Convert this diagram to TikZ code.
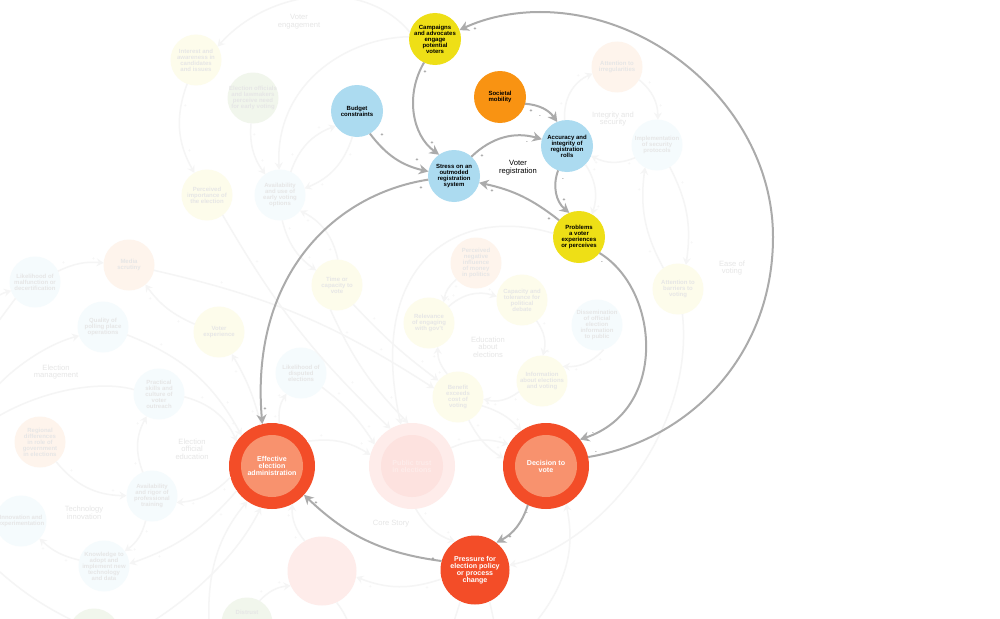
\documentclass[tikz,border=0pt]{standalone}
\usepackage{fontspec}
\setmainfont{Liberation Sans}
\usetikzlibrary{arrows.meta}
\definecolor{cBlue}{HTML}{ACDBF0}
\definecolor{cYel}{HTML}{EEDF16}
\definecolor{cOrg}{HTML}{F99312}
\definecolor{cRed}{HTML}{F34D28}
\definecolor{cIn}{HTML}{F8926E}
\definecolor{cGray}{HTML}{ABABAB}
\definecolor{fYel}{HTML}{FDFCEB}
\definecolor{fBlu}{HTML}{F5FBFD}
\definecolor{fOrg}{HTML}{FEF4EC}
\definecolor{fGrn}{HTML}{F1F6EC}
\definecolor{fLine}{HTML}{F5F5F5}
\definecolor{fText}{HTML}{E6E6E6}
\definecolor{gOut}{HTML}{FEECEA}
\definecolor{gIn}{HTML}{FDE2DF}
\tikzset{
  base/.style={circle,draw=none,inner sep=-4pt,outer sep=0pt,minimum size=51pt,align=center,
    font=\fontsize{6}{6}\selectfont\bfseries},
  act/.style={base,text=black},
  fad/.style={base,text=fText},
  big/.style={circle,draw=none,fill=cRed,inner sep=0pt,outer sep=0pt,minimum size=86pt},
  inn/.style={circle,draw=none,fill=cIn,inner sep=-4pt,minimum size=62pt,align=center,text=white,
    font=\fontsize{7.1}{7}\selectfont\bfseries},
  conn/.style={draw=cGray,line width=2pt,-{Stealth[length=9.5pt,width=10pt,inset=3pt]}},
  fedge/.style={draw=fLine,line width=1.5pt,-{Stealth[length=7pt,width=8pt,inset=2.5pt]}},
  plain/.style={draw=fLine,line width=1.5pt},
  lab/.style={text=fText,align=center,font=\fontsize{7.6}{7.7}\selectfont},
  mk/.style={text=cGray!80!black,inner sep=0pt,font=\fontsize{5}{5}\selectfont\bfseries},
  fmk/.style={text=fLine,inner sep=1.5pt,font=\fontsize{5}{5}\selectfont\bfseries}
}
\newcommand\fe[3]{\draw[fedge] (#2) to[#1] node[fmk,pos=.2,auto]{+} node[fmk,pos=.8,auto]{+} (#3);}
\begin{document}
\begin{tikzpicture}[x=1pt,y=-1pt]
\useasboundingbox (0,0) rectangle (1000,618);
\clip (0,0) rectangle (1000,618);
\fill[white] (0,0) rectangle (1000,618);
% faded nodes
\node[fad,fill=fYel] (interest) at (196,60) {Interest and\\awareness in\\candidates\\and issues};
\node[fad,fill=fGrn] (officials) at (253,98) {Election officials\\and lawmakers\\perceive need\\for early voting};
\node[fad,fill=fYel] (importance) at (207,195) {Perceived\\importance of\\the election};
\node[fad,fill=fBlu] (early) at (280,195) {Availability\\and use of\\early voting\\options};
\node[fad,fill=fYel] (time) at (337,285) {Time or\\capacity to\\vote};
\node[fad,fill=fOrg] (media) at (129,265) {Media\\scrutiny};
\node[fad,fill=fBlu] (malf) at (35,282) {Likelihood of\\malfunction or\\decertification};
\node[fad,fill=fBlu] (quality) at (103,327) {Quality of\\polling place\\operations};
\node[fad,fill=fYel] (vexp) at (219,332) {Voter\\experience};
\node[fad,fill=fBlu] (disputed) at (301,373) {Likelihood of\\disputed\\elections};
\node[fad,fill=fBlu] (skills) at (159,394) {Practical\\skills and\\culture of\\voter\\outreach};
\node[fad,fill=fOrg] (regional) at (40,442) {Regional\\differences\\in role of\\government\\in elections};
\node[fad,fill=fBlu] (rigor) at (152,496) {Availability\\and rigor of\\professional\\training};
\node[fad,fill=fBlu] (innov) at (21,521) {Innovation and\\experimentation};
\node[fad,fill=fBlu] (know) at (104,566) {Knowledge to\\adopt and\\implement new\\technology\\and data};
\node[fad,fill=fGrn] (green) at (94,634) {};
\node[fad,fill=fGrn] (distrust) at (247,623) {};
\node[fad,fill=none,minimum size=0pt,inner sep=0pt] (distrustt) at (247,612.5) {Distrust};
\node[fad,fill=fOrg] (irreg) at (617,67) {Attention to\\irregularities};
\node[fad,fill=fBlu] (impl) at (657,145) {Implementation\\of security\\protocols};
\node[fad,fill=fYel] (barriers) at (678,289) {Attention to\\barriers to\\voting};
\node[fad,fill=fOrg] (money) at (476,263) {Perceived\\negative\\influence\\of money\\in politics};
\node[fad,fill=fYel] (capacity) at (522,300) {Capacity and\\tolerance for\\political\\debate};
\node[fad,fill=fYel] (relevance) at (429,323) {Relevance\\of engaging\\with gov't};
\node[fad,fill=fBlu] (dissem) at (597,325) {Dissemination\\of official\\election\\information\\to public};
\node[fad,fill=fYel] (info) at (542,381) {Information\\about elections\\and voting};
\node[fad,fill=fYel] (benefit) at (458,397) {Benefit\\exceeds\\cost of\\voting};
\node[big,fill=gOut] (ghost) at (412,466) {};
\node[inn,fill=gIn,text=gOut] (ghostin) at (412,466) {Public trust\\in elections};
\node[circle,fill=gOut,inner sep=0pt,minimum size=69pt] (ghosttwo) at (322,571) {};
% active nodes
\node[act,fill=cYel,minimum size=52pt] (camp) at (435,39) {Campaigns\\and advocates\\engage\\potential\\voters};
\node[act,fill=cOrg,minimum size=52pt] (mobility) at (500,97) {Societal\\mobility};
\node[act,fill=cBlue,minimum size=52pt] (budget) at (357,111) {Budget\\constraints};
\node[act,fill=cBlue,minimum size=52pt] (stress) at (454,176) {Stress on an\\outmoded\\registration\\system};
\node[act,fill=cBlue,minimum size=52pt] (acc) at (567,146) {Accuracy and\\integrity of\\registration\\rolls};
\node[act,fill=cYel,minimum size=52pt] (prob) at (579,237) {Problems\\a voter\\experiences\\or perceives};
\node[big] (eff) at (272,466) {};
\node[inn] (effin) at (272,466) {Effective\\election\\administration};
\node[big] (dec) at (546,466) {};
\node[inn] (decin) at (546,466) {Decision to\\vote};
\node[circle,fill=cRed,inner sep=-4pt,minimum size=69pt,align=center,text=white,font=\fontsize{7.1}{7}\selectfont\bfseries] (press) at (475,570) {Pressure for\\election policy\\or process\\change};
% labels
\node[lab] (l1) at (299,22) {Voter\\engagement};
\node[lab] (l2) at (613,119) {Integrity and\\security};
\node[lab,text=black] (l3) at (518,168) {Voter\\registration};
\node[lab] (l4) at (732,268) {Ease of\\voting};
\node[lab] (l5) at (56,372) {Election\\management};
\node[lab] (l6) at (192,449) {Election\\official\\education};
\node[lab] (l7) at (488,347) {Education\\about\\elections};
\node[lab] (l8) at (84,513) {Technology\\innovation};
\node[lab] (l9) at (391,524) {Core Story};
% free ends
\coordinate (fa) at (-8,300);
\coordinate (fb) at (-8,392);
\coordinate (fc) at (-8,420);
\coordinate (fd) at (-8,330);
\coordinate (fe) at (-8,565);
\coordinate (ff) at (120,640);
\coordinate (fg) at (210,640);
\coordinate (fh) at (352,640);
\coordinate (fi) at (448,640);
\coordinate (fj) at (498,640);
\coordinate (fk) at (520,640);
\coordinate (fl) at (-8,495);
% faded connectors
\draw[fedge] (camp.165) .. controls (365,-22) and (270,-12) .. (interest.32);
\fe{bend right=25}{interest}{importance}
\fe{bend right=20}{officials}{early}
\draw[fedge] (camp.175) .. controls (345,38) and (275,85) .. (early.92);
\fe{bend left=25}{early.65}{budget.215}
\fe{bend left=25}{budget.260}{early.15}
\fe{bend right=20}{early.-85}{time.145}
\fe{bend right=25}{time.88}{early.-38}
\fe{bend left=10}{media}{benefit.160}
\fe{bend right=8}{importance.-52}{ghost.120}
\fe{bend right=10}{time.-105}{ghost.95}
\fe{bend right=5}{time.-50}{benefit.140}
\fe{bend left=20}{quality}{eff.135}
\fe{bend left=25}{skills}{eff.145}
\fe{bend left=15}{vexp}{media.-50}
\fe{bend right=8}{eff.105}{vexp.-60}
\fe{bend left=20}{eff.80}{disputed.-125}
\fe{bend left=10}{disputed}{ghost.150}
\fe{bend left=15}{malf}{media}
\draw[fedge] (fa) to[bend left=10] (malf.200);
\draw[plain] (malf.-140) -- (fd);
\draw[fedge] (fb) .. controls (10,370) and (45,345) .. (quality.200);
\draw[plain] (skills.170) .. controls (100,380) and (40,390) .. (fc);
\fe{bend right=25}{regional}{rigor}
\fe{bend left=25}{rigor}{skills}
\fe{bend left=20}{eff.-165}{rigor.-15}
\fe{bend left=20}{rigor}{know}
\fe{bend left=15}{eff.-145}{know.5}
\fe{bend left=15}{know}{innov}
\draw[plain] (innov.160) -- (fl);
\draw[plain] (fe) .. controls (20,590) and (50,615) .. (ff);
\draw[fedge] (ff) .. controls (180,610) and (235,560) .. (eff.-105);
\draw[fedge] (fg) .. controls (205,580) and (215,540) .. (eff.-125);
\fe{bend left=20}{ghosttwo.120}{eff.-62}
\fe{bend left=20}{distrust}{ghosttwo.-155}
\fe{bend left=20}{press.-165}{ghosttwo.-10}
\draw[plain] (ghosttwo.-65) to[bend left=15] (fh);
\fe{bend right=20}{ghost.-85}{press.125}
\fe{bend left=20}{eff.35}{ghost.165}
\fe{bend left=20}{ghost.25}{dec.150}
\fe{bend right=15}{benefit.-65}{dec.170}
\fe{bend left=15}{benefit.-20}{dec.125}
\fe{bend left=25}{info.-155}{benefit.-5}
\fe{bend left=20}{benefit.115}{relevance.-70}
\fe{bend left=30}{relevance.40}{capacity.172}
\fe{bend right=20}{money.-140}{relevance.55}
\fe{bend left=25}{capacity.-55}{info.88}
\fe{bend left=25}{dissem.-75}{info.35}
\fe{bend left=35}{acc.95}{irreg.-165}
\fe{bend left=25}{irreg.-30}{impl.88}
\fe{bend left=25}{impl.-150}{acc.-22}
\fe{bend left=25}{acc.-45}{prob.60}
\fe{bend left=18}{barriers.125}{impl.-118}
\fe{bend left=18}{impl.-60}{barriers.72}
\draw[fedge] (barriers.-80) .. controls (695,430) and (600,545) .. (press.8);
\draw[fedge] (fk) .. controls (578,580) and (572,535) .. (dec.-62);
\draw[plain] (press.-115) -- (fi);
\draw[plain] (press.-65) -- (fj);
\draw[fedge] (prob.172) .. controls (460,205) and (365,260) .. (ghost.105);
% active connectors
\draw[conn] (camp.-115) .. controls (405,95) and (412,135) .. (stress.125);
\draw[conn] (budget) to[bend right=20] (stress.170);
\draw[conn] (mobility.-15) to[bend left=25] (acc.112);
\draw[conn] (stress.48) to[bend left=30] (acc.165);
\draw[conn] (acc.-110) to[bend right=35] (prob.112);
\draw[conn] (prob.140) to[bend right=13] (stress.-15);
\draw[conn] (prob.-38) .. controls (660,290) and (668,410) .. (dec.38);
\draw[conn] (dec.12) .. controls (690,440) and (773,355) .. (773,237)
   .. controls (773,115) and (660,12) .. (540,12)
   .. controls (512,12) and (485,18) .. (camp.20);
\draw[conn] (stress.-172) .. controls (330,195) and (250,280) .. (eff.103);
\draw[conn] (dec.-115) to[bend left=22] (press.52);
\draw[conn] (press.165) to[bend left=18] (eff.-42);
% polarity marks
\node[mk] (m1) at (425,72) {+};
\node[mk] (m2) at (432,143) {+};
\node[mk] (m3) at (382,135) {+};
\node[mk] (m4) at (417,160) {+};
\node[mk] (m5) at (531,111) {+};
\node[mk] (m6) at (540,117) {-};
\node[mk] (m7) at (482,156) {+};
\node[mk] (m8) at (527,143) {-};
\node[mk] (m9) at (563,180) {-};
\node[mk] (m10) at (564,200) {+};
\node[mk] (m11) at (549,219) {+};
\node[mk] (m12) at (492,191) {+};
\node[mk] (m13) at (421,188) {+};
\node[mk] (m14) at (265,409) {+};
\node[mk] (m15) at (602,263) {-};
\node[mk] (m16) at (593,434) {-};
\node[mk] (m17) at (596,453) {-};
\node[mk] (m18) at (475,29) {+};
\node[mk] (m19) at (527,514) {-};
\node[mk] (m20) at (510,537) {+};
\node[mk] (m21) at (433,559) {+};
\node[mk] (m22) at (316,503) {+};
\end{tikzpicture}
\end{document}
